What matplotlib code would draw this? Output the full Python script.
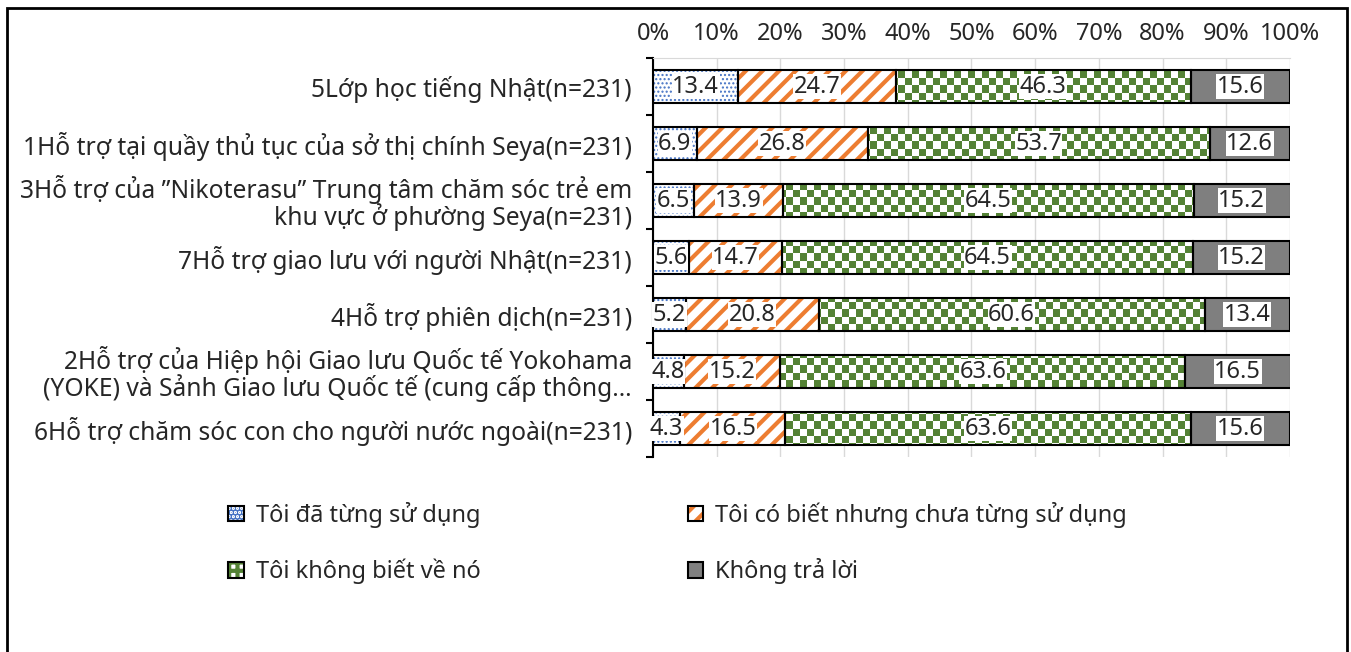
import matplotlib
matplotlib.use("Agg")
import matplotlib.pyplot as plt
import numpy as np
from matplotlib.patches import Patch, Rectangle
from matplotlib.legend_handler import HandlerTuple
from matplotlib.colors import ListedColormap

plt.rcParams["font.family"] = ["Noto Sans", "DejaVu Sans"]

categories = [
    "5Lớp học tiếng Nhật(n=231)",
    "1Hỗ trợ tại quầy thủ tục của sở thị chính Seya(n=231)",
    "3Hỗ trợ của ”Nikoterasu” Trung tâm chăm sóc trẻ em\nkhu vực ở phường Seya(n=231)",
    "7Hỗ trợ giao lưu với người Nhật(n=231)",
    "4Hỗ trợ phiên dịch(n=231)",
    "2Hỗ trợ của Hiệp hội Giao lưu Quốc tế Yokohama\n(YOKE) và Sảnh Giao lưu Quốc tế (cung cấp thông…",
    "6Hỗ trợ chăm sóc con cho người nước ngoài(n=231)",
]
used = [13.4, 6.9, 6.5, 5.6, 5.2, 4.8, 4.3]
known_not_used = [24.7, 26.8, 13.9, 14.7, 20.8, 15.2, 16.5]
not_known = [46.3, 53.7, 64.5, 64.5, 60.6, 63.6, 63.6]
no_answer = [15.6, 12.6, 15.2, 15.2, 13.4, 16.5, 15.6]
series_names = [
    "Tôi đã từng sử dụng",
    "Tôi có biết nhưng chưa từng sử dụng",
    "Tôi không biết về nó",
    "Không trả lời",
]
ticks = np.arange(0, 101, 10)
tick_labels = [f"{t}%" for t in ticks]

fig = plt.figure(figsize=(13.51, 6.52), dpi=100)
ax = fig.add_axes([0.4833, 0.299, 0.4715, 0.612])

y = np.arange(len(categories))
h = 0.58
text_col = "#262626"
fs = 17

# blue dotted
plt.rcParams["hatch.linewidth"] = 1.0
b1 = ax.barh(y, used, height=h, color="white", edgecolor="#4472c4",
             hatch="....", linewidth=0, zorder=2)
left = np.array(used)
# orange stripes
plt.rcParams["hatch.linewidth"] = 3.0
b2 = ax.barh(y, known_not_used, left=left, height=h, color="white",
             edgecolor="#ed7d31", hatch="//", linewidth=0, zorder=2)
left = left + np.array(known_not_used)
# green checker (clipped image)
b3 = ax.barh(y, not_known, left=left, height=h, color="white",
             linewidth=0, zorder=2)
checker = (np.indices((57, 91)).sum(axis=0) % 2).astype(float)
cmap = ListedColormap(["white", "#548235"])
for p in b3.patches:
    im = ax.imshow(checker, extent=(0, 100, -0.5, len(categories) - 0.5),
                   cmap=cmap, aspect="auto", interpolation="nearest",
                   zorder=2.5)
    im.set_clip_path(p)
left = left + np.array(not_known)
b4 = ax.barh(y, no_answer, left=left, height=h, color="#7f7f7f",
             linewidth=0, zorder=2)

# black outlines
starts = np.zeros(len(categories))
for vals in [used, known_not_used, not_known, no_answer]:
    ax.barh(y, vals, left=starts, height=h, fill=False, edgecolor="black",
            linewidth=1.5, zorder=3)
    starts = starts + np.array(vals)

for bars in [b1, b2, b3, b4]:
    ax.bar_label(bars, fmt="%.1f", label_type="center", fontsize=fs,
                 color=text_col, zorder=5,
                 bbox=dict(facecolor="white", edgecolor="none", pad=0.3))

ax.set_xlim(0, 100)
ax.set_ylim(len(categories) - 0.5, -0.5)
ax.xaxis.tick_top()
ax.set_xticks(ticks)
ax.set_xticklabels(tick_labels, fontsize=fs, color=text_col)
ax.tick_params(axis="x", length=0, pad=9)
ax.set_yticks(y)
ax.set_yticklabels(categories, fontsize=17.7, color=text_col,
                   linespacing=0.95)
ax.set_yticks(np.arange(len(categories) + 1) - 0.5, minor=True)
ax.tick_params(axis="y", which="major", length=0, pad=15)
ax.tick_params(axis="y", which="minor", length=5, width=1.5)
ax.grid(axis="x", color="#d9d9d9", linewidth=1, zorder=0)
ax.set_axisbelow(True)
for s in ["right", "bottom"]:
    ax.spines[s].set_visible(False)
ax.spines["top"].set_color("#d9d9d9")
ax.spines["left"].set_linewidth(1.5)

# legend, row-major order like the original
fills = [
    Patch(facecolor="white", edgecolor="#4472c4", hatch="....", linewidth=0),
    Patch(facecolor="white", edgecolor="#ed7d31", hatch="//", linewidth=0),
    Patch(facecolor="white", edgecolor="#548235", hatch="++", linewidth=0),
    Patch(facecolor="#7f7f7f", linewidth=0),
]
outline = Patch(facecolor="none", edgecolor="black", linewidth=1.5)
handles = [(f, outline) for f in fills]
order = [0, 2, 1, 3]
fig.legend([handles[i] for i in order], [series_names[i] for i in order],
           loc="upper left", bbox_to_anchor=(0.1533, 0.263), ncol=2,
           frameon=False, fontsize=fs, handlelength=0.65, handleheight=0.65,
           handletextpad=0.5, columnspacing=8.8, labelspacing=1.3,
           labelcolor=text_col,
           handler_map={tuple: HandlerTuple(ndivide=1, pad=0)})

# outer frame
fig.patches.append(Rectangle((0.0055, -0.05), 0.9915, 1.0377,
                             transform=fig.transFigure, fill=False,
                             edgecolor="black", linewidth=2))

fig.savefig("out.png", dpi=100)
